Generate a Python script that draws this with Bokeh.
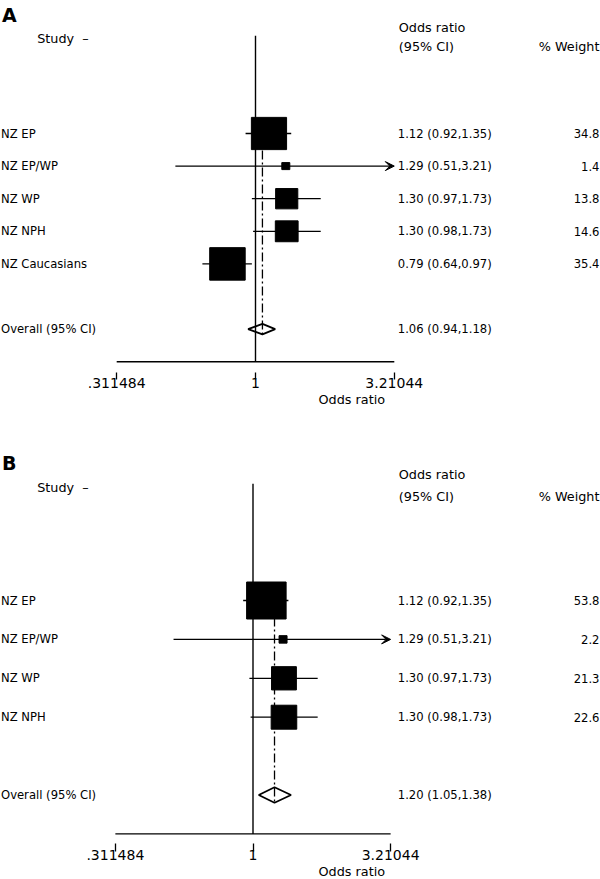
import math
from bokeh.plotting import figure
from bokeh.models import ColumnDataSource, Range1d, FixedTicker, Title, Arrow, VeeHead
from bokeh.layouts import column
from bokeh.embed import file_html
from bokeh.resources import INLINE
from bokeh.core.properties import value

# ---------------- data ----------------
studies_a = ["NZ EP", "NZ EP/WP", "NZ WP", "NZ NPH", "NZ Caucasians"]
or_a = [1.12, 1.29, 1.30, 1.30, 0.79]
lo_a = [0.92, 0.51, 0.97, 0.98, 0.64]
hi_a = [1.35, 3.21, 1.73, 1.73, 0.97]
weight_a = [34.8, 1.4, 13.8, 14.6, 35.4]
overall_a = [1.06, 0.94, 1.18]  # estimate, lower, upper

studies_b = ["NZ EP", "NZ EP/WP", "NZ WP", "NZ NPH"]
or_b = [1.12, 1.29, 1.30, 1.30]
lo_b = [0.92, 0.51, 0.97, 0.98]
hi_b = [1.35, 3.21, 1.73, 1.73]
weight_b = [53.8, 2.2, 21.3, 22.6]
overall_b = [1.20, 1.05, 1.38]

axis_ticks = [0.311484, 1, 3.21044]
axis_labels = [".311484", "1", "3.21044"]
null_value = 1

FONT = "DejaVu Sans"
FS_LAB = "11.6px"    # study labels
FS_NUM = "11.6px"    # numeric columns
FS_HDR = "12.8px"    # headers / axis title
FS_TICK = "14px"     # tick labels
W = 600


def fmt_ci(e, l, h):
    return f"{e:.2f} ({l:.2f},{h:.2f})"


def make_panel(letter, studies, est, lo, hi, wts, overall, cfg):
    H = cfg["height"]
    mb = cfg["min_border_bottom"]
    frame_h = H - mb
    null_px, k = cfg["null_px"], cfg["k"]
    r1, step = cfg["row1_px"], cfg["row_step"]

    def xd(px):
        return math.exp((px - null_px) / k)

    ystart = 1 + (frame_h - r1) / step
    yend = 1 - r1 / step

    p = figure(width=W, height=H, x_axis_type="log",
               x_range=Range1d(xd(0), xd(W)), y_range=Range1d(ystart, yend),
               toolbar_location=None, output_backend="svg",
               min_border_left=0, min_border_right=0, min_border_top=0,
               min_border_bottom=mb, y_axis_location=None,
               outline_line_color=None, background_fill_color="white")
    p.grid.visible = False

    n = len(studies)
    rows = list(range(1, n + 1))
    overall_row = n + 2
    axis_row = n + 3

    # axis
    ax = p.xaxis[0]
    ax.ticker = FixedTicker(ticks=axis_ticks)
    ax.major_label_overrides = dict(zip(axis_ticks, axis_labels))
    ax.axis_line_color = None
    ax.major_tick_in = 0
    ax.major_tick_out = cfg["tick_out"]
    ax.minor_tick_in = 0
    ax.minor_tick_out = 0
    ax.major_tick_line_width = 1.3
    ax.major_tick_line_color = "black"
    ax.major_label_standoff = cfg["label_standoff"]
    ax.major_label_text_font = FONT
    ax.major_label_text_font_size = FS_TICK
    ax.major_label_text_color = "black"

    p.add_layout(Title(text="Odds ratio", align="left", offset=318,
                       text_font=FONT, text_font_size=FS_HDR,
                       text_font_style="normal", text_color="black",
                       standoff=cfg["title_standoff"]), "below")

    # null line and axis line
    p.segment(x0=[null_value], y0=[-2], x1=[null_value], y1=[axis_row],
              line_color="black", line_width=1.4)
    p.segment(x0=[axis_ticks[0]], y0=[axis_row], x1=[axis_ticks[-1]], y1=[axis_row],
              line_color="black", line_width=1.4)

    dh = cfg["diamond_h"]
    # pooled estimate line
    p.segment(x0=[overall[0]], y0=[1], x1=[overall[0]], y1=[overall_row + dh],
              line_color="black", line_width=1.3, line_dash="9 3 2 3")

    # whiskers
    clipped = [h >= 3.21 for h in hi]
    seg = ColumnDataSource(dict(
        lo=[l for l, c in zip(lo, clipped) if not c],
        hi=[h for h, c in zip(hi, clipped) if not c],
        row=[r for r, c in zip(rows, clipped) if not c]))
    p.segment(x0="lo", y0="row", x1="hi", y1="row", source=seg,
              line_color="black", line_width=1.3)
    arr = ColumnDataSource(dict(
        lo=[l for l, c in zip(lo, clipped) if c],
        hi=[h for h, c in zip(hi, clipped) if c],
        row=[r for r, c in zip(rows, clipped) if c]))
    p.add_layout(Arrow(source=arr, x_start="lo", y_start="row", x_end="hi", y_end="row",
                       line_color="black", line_width=1.3,
                       end=VeeHead(size=9, fill_color="black", line_color="black",
                                   line_width=1)))

    # boxes (area proportional to weight)
    wmax = max(wts)
    box = ColumnDataSource(dict(
        est=est, row=rows,
        bw=[max(cfg["smax_w"] * math.sqrt(w / wmax), 8) for w in wts],
        bh=[max(cfg["smax_h"] * math.sqrt(w / wmax), 7) for w in wts]))
    p.rect(x="est", y="row", width="bw", height="bh", source=box,
           width_units="screen", height_units="screen",
           fill_color="black", line_color="black", line_width=1)

    # diamond
    p.patch(x=[overall[1], overall[0], overall[2], overall[0]],
            y=[overall_row, overall_row - dh, overall_row, overall_row + dh],
            fill_color=None, line_color="black", line_width=1.8)

    tf = value(FONT)
    # study labels
    lab = ColumnDataSource(dict(x=[xd(0.5)] * (n + 1), y=rows + [overall_row],
                                t=studies + ["Overall (95% CI)"]))
    p.text(x="x", y="y", text="t", source=lab, text_font=tf,
           text_font_size=value(FS_LAB),
           text_baseline="alphabetic", text_align="left", text_color="black")
    # OR (CI) column
    ci = ColumnDataSource(dict(
        x=[xd(cfg["ci_px"])] * (n + 1), y=rows + [overall_row],
        t=[fmt_ci(e, l, h) for e, l, h in zip(est, lo, hi)] + [fmt_ci(*overall)]))
    p.text(x="x", y="y", text="t", source=ci, text_font=tf,
           text_font_size=value(FS_NUM),
           text_baseline="alphabetic", text_align="left", text_color="black")
    # weight column
    wt = ColumnDataSource(dict(x=[xd(599)] * n, y=rows, t=[f"{w:.1f}" for w in wts]))
    p.text(x="x", y="y", text="t", source=wt, text_font=tf,
           text_font_size=value(FS_NUM),
           text_baseline="alphabetic", text_align="right", text_color="black")

    # headers
    hdr = ColumnDataSource(dict(
        x=[xd(36.7), xd(cfg["ci_px"] + 1), xd(cfg["ci_px"] + 1), xd(599)],
        y=[-1.9, -2.25, -1.67, -1.67],
        t=["Study\u00a0\u00a0\u2013", "Odds ratio", "(95% CI)", "% Weight"],
        a=["left", "left", "left", "right"]))
    p.text(x="x", y="y", text="t", source=hdr, text_font=tf,
           text_font_size=value(FS_HDR),
           text_baseline="alphabetic", text_align="a", text_color="black")
    p.text(x=[xd(1.5)], y=[cfg["letter_row"]], text=[letter], text_font=tf,
           text_font_size=value("19px"), text_font_style="bold",
           text_baseline="middle", text_align="left", text_color="black")
    return p


cfg_a = dict(height=440, min_border_bottom=68, null_px=255, k=119,
             row1_px=133, row_step=32.6, tick_out=7, label_standoff=-2,
             title_standoff=-2, smax_w=35.5, smax_h=32.5, diamond_h=0.16,
             ci_px=397.3, letter_row=-2.62)
cfg_b = dict(height=439, min_border_bottom=36, null_px=252.5, k=118,
             row1_px=160, row_step=38.9, tick_out=8, label_standoff=-2,
             title_standoff=-2, smax_w=39.5, smax_h=37, diamond_h=0.2,
             ci_px=397.3, letter_row=-2.53)

pa = make_panel("A", studies_a, or_a, lo_a, hi_a, weight_a, overall_a, cfg_a)
pb = make_panel("B", studies_b, or_b, lo_b, hi_b, weight_b, overall_b, cfg_b)

layout = column(pa, pb, spacing=0)
open("out.html", "w").write(file_html(layout, INLINE))
